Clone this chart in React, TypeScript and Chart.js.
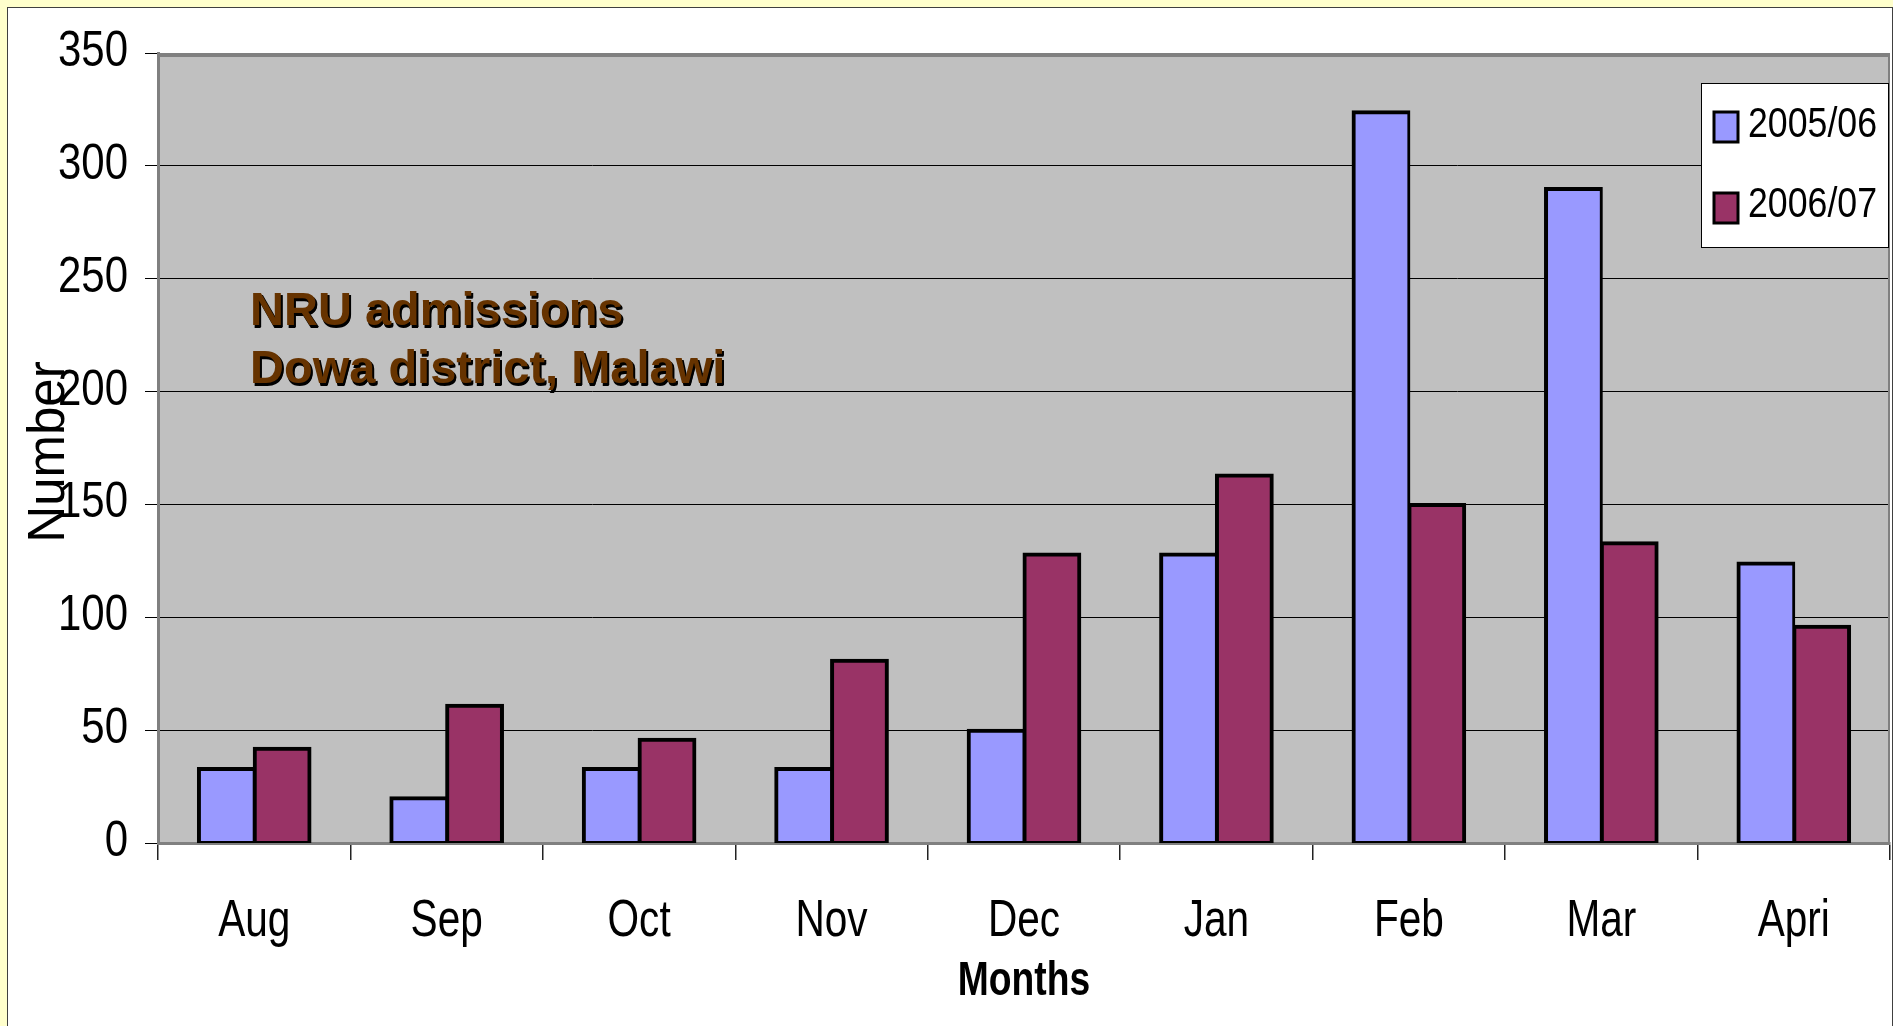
import React, { useEffect, useRef } from "react";
import { Chart, registerables } from "chart.js";

Chart.register(...registerables);

const months = ["Aug", "Sep", "Oct", "Nov", "Dec", "Jan", "Feb", "Mar", "Apri"];
const series2005 = [33, 20, 33, 33, 50, 128, 324, 290, 124];
const series2006 = [42, 61, 46, 81, 128, 163, 150, 133, 96];
const seriesLabels = ["2005/06", "2006/07"];
const seriesColors = ["#9999FF", "#993366"];
const yTicks = [0, 50, 100, 150, 200, 250, 300, 350];
const titleLines = ["NRU admissions", "Dowa district, Malawi"];
const xTitle = "Months";
const yTitle = "Number";

const FONT = '"Liberation Sans", Arial, sans-serif';

function squeeze(ctx: CanvasRenderingContext2D, text: string, x: number, y: number, sx: number, align: CanvasTextAlign) {
  ctx.save();
  ctx.translate(x, y);
  ctx.scale(sx, 1);
  ctx.textAlign = align;
  ctx.textBaseline = "alphabetic";
  ctx.fillText(text, 0, 0);
  ctx.restore();
}

const decor = {
  id: "decor",
  beforeDraw(chart: any) {
    const { ctx, chartArea: a } = chart;
    ctx.save();
    ctx.fillStyle = "#C0C0C0";
    ctx.fillRect(a.left, a.top, a.right - a.left, a.bottom - a.top);
    ctx.restore();
  },
  beforeDatasetsDraw(chart: any) {
    const { ctx, chartArea: a } = chart;
    ctx.save();
    ctx.strokeStyle = "#808080";
    ctx.lineWidth = 4;
    ctx.beginPath();
    ctx.moveTo(a.left - 1, a.top + 2);
    ctx.lineTo(a.right, a.top + 2);
    ctx.stroke();
    ctx.lineWidth = 2;
    ctx.beginPath();
    ctx.moveTo(a.right - 1, a.top);
    ctx.lineTo(a.right - 1, a.bottom);
    ctx.stroke();
    ctx.restore();
  },
  afterDraw(chart: any) {
    const { ctx, chartArea: a } = chart;
    const xs = chart.scales.x;
    const ys = chart.scales.y;
    ctx.save();
    ctx.fillStyle = "#000";
    // y tick labels
    ctx.font = `50px ${FONT}`;
    ys.ticks.forEach((t: any, i: number) => {
      const py = ys.getPixelForTick(i);
      squeeze(ctx, String(t.value), 128, py + 13, 0.84, "right");
    });
    // x tick labels
    ctx.font = `52px ${FONT}`;
    xs.ticks.forEach((_t: any, i: number) => {
      const px = xs.getPixelForTick(i);
      squeeze(ctx, String(chart.data.labels[i]), px, 936, 0.78, "center");
    });
    // x title
    ctx.font = `bold 49px ${FONT}`;
    squeeze(ctx, xTitle, (a.left + a.right) / 2, 995, 0.76, "center");
    // y title
    ctx.save();
    ctx.translate(64, (a.top + a.bottom) / 2 + 4);
    ctx.rotate(-Math.PI / 2);
    ctx.font = `51px ${FONT}`;
    ctx.textAlign = "center";
    ctx.textBaseline = "alphabetic";
    ctx.fillText(yTitle, 0, 0);
    ctx.restore();
    // chart annotation title
    ctx.font = `bold 47px ${FONT}`;
    ctx.textAlign = "left";
    ctx.textBaseline = "alphabetic";
    const baselines = [325, 383];
    titleLines.forEach((line, i) => {
      ctx.fillStyle = "#000";
      ctx.fillText(line, 252, baselines[i] + 2);
      ctx.fillText(line, 251.5, baselines[i] + 2.5);
      ctx.fillStyle = "#663300";
      ctx.fillText(line, 250, baselines[i]);
    });
    // legend
    ctx.fillStyle = "#FFFFFF";
    ctx.fillRect(1701, 83, 187, 164);
    ctx.strokeStyle = "#000";
    ctx.lineWidth = 1;
    ctx.strokeRect(1701.5, 83.5, 187, 164);
    const sqTops = [111, 192];
    const textBases = [137, 217];
    chart.data.datasets.forEach((ds: any, i: number) => {
      ctx.fillStyle = ds.backgroundColor;
      ctx.fillRect(1714, sqTops[i] + 1, 24, 30);
      ctx.strokeStyle = "#000";
      ctx.lineWidth = 3;
      ctx.strokeRect(1714, sqTops[i] + 1, 24, 30);
      ctx.fillStyle = "#000";
      ctx.font = `42px ${FONT}`;
      squeeze(ctx, ds.label, 1748, textBases[i], 0.85, "left");
    });
    ctx.restore();
  },
};

export default function App() {
  const ref = useRef<HTMLCanvasElement | null>(null);

  useEffect(() => {
    if (!ref.current) return;
    const chart = new Chart(ref.current, {
      type: "bar",
      data: {
        labels: months,
        datasets: [
          {
            label: seriesLabels[0],
            data: series2005,
            backgroundColor: seriesColors[0],
            borderColor: "#000",
            borderWidth: { top: 4, left: 4, bottom: 3, right: 3 } as any,
            borderSkipped: false,
            inflateAmount: 1.5,
            categoryPercentage: 0.58,
            barPercentage: 1,
          },
          {
            label: seriesLabels[1],
            data: series2006,
            backgroundColor: seriesColors[1],
            borderColor: "#000",
            borderWidth: { top: 4, left: 4, bottom: 3, right: 4 } as any,
            borderSkipped: false,
            inflateAmount: 1.5,
            categoryPercentage: 0.58,
            barPercentage: 1,
          },
        ],
      },
      options: {
        responsive: false,
        devicePixelRatio: 1,
        animation: false,
        layout: { padding: { top: 53, right: 3, left: 0, bottom: 0 } },
        plugins: {
          legend: { display: false },
          tooltip: { enabled: false },
          title: { display: false },
        },
        scales: {
          x: {
            type: "category",
            offset: true,
            grid: {
              offset: true,
              drawOnChartArea: false,
              drawTicks: true,
              tickLength: 17,
              color: "#222",
              lineWidth: 1.5,
            },
            border: { display: true, color: "#808080", width: 3 },
            ticks: { display: false },
            afterFit(s: any) {
              s.height = 183;
            },
          },
          y: {
            min: 0,
            max: 350,
            afterBuildTicks(s: any) {
              s.ticks = yTicks.map((v) => ({ value: v }));
            },
            ticks: { display: false },
            grid: {
              color: (c: any) => (c.tick && c.tick.value === 0 ? "rgba(0,0,0,0)" : "#000"),
              tickColor: "#000",
              tickLength: 13,
              lineWidth: 1,
            },
            border: { display: true, color: "#808080", width: 3 },
            afterFit(s: any) {
              s.width = 158;
            },
          },
        },
      } as any,
      plugins: [decor],
    });
    return () => chart.destroy();
  }, []);

  return (
    <div
      style={{
        position: "fixed",
        left: 0,
        top: 0,
        width: "1893px",
        height: "1026px",
        overflow: "hidden",
        background: "#FFFFCC",
      }}
    >
      <div
        style={{
          position: "absolute",
          left: "7px",
          top: "7px",
          width: "1884px",
          height: "1100px",
          background: "#FFFFFF",
          borderLeft: "1px solid #404040",
          borderTop: "1px solid #404040",
          borderRight: "1px solid #404040",
        }}
      />
      <canvas
        ref={ref}
        width={1893}
        height={1026}
        style={{ position: "absolute", left: 0, top: 0, width: "1893px", height: "1026px" }}
      />
    </div>
  );
}
